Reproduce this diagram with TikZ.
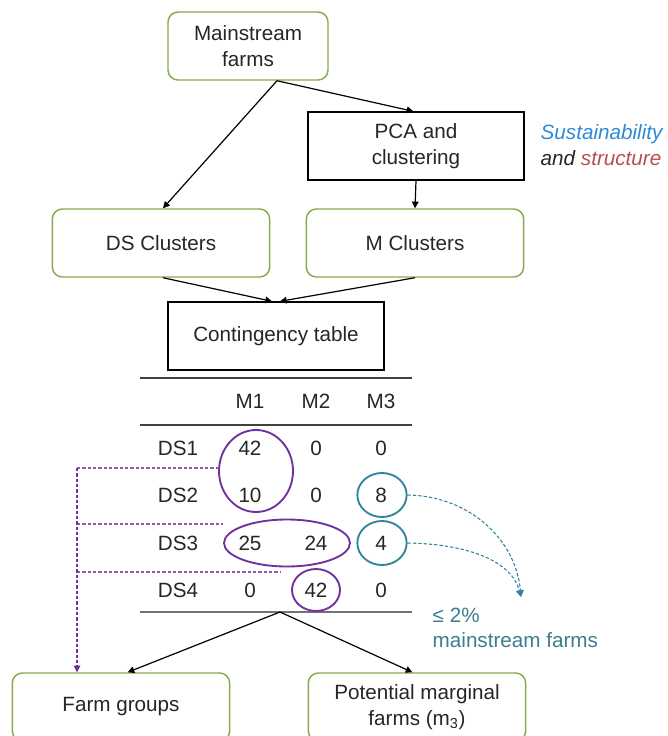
\documentclass[tikz,border=0pt]{standalone}
\usepackage{fontspec}
\setmainfont{Liberation Sans}
\usetikzlibrary{arrows.meta,shapes.geometric}
\definecolor{boxgreen}{HTML}{86AB4F}
\definecolor{ringpurple}{HTML}{7030A0}
\definecolor{ringteal}{HTML}{31849B}
\definecolor{textteal}{HTML}{3B7E8E}
\definecolor{susblue}{HTML}{2E8BD6}
\definecolor{strred}{HTML}{B5504F}
\definecolor{txt}{HTML}{262626}
\begin{document}
\begin{tikzpicture}[x=0.75pt,y=-0.75pt,
  font=\fontsize{15.5}{19.5}\selectfont,
  greenbox/.style={draw=boxgreen, line width=1.1pt, rounded corners=7.5pt, minimum width=163pt, minimum height=51pt, align=center, text=txt},
  blackbox/.style={draw=black, line width=1pt, minimum width=162pt, minimum height=51pt, align=center, text=txt},
  arr/.style={-{Triangle[length=5pt,width=5pt]}, line width=0.9pt},
  cell/.style={text=txt, inner sep=1pt},
  pring/.style={draw=ringpurple, ellipse, line width=1.4pt, inner sep=0pt},
  tring/.style={draw=ringteal, ellipse, line width=1.4pt, inner sep=0pt},
  pdash/.style={draw=ringpurple!80, dashed, dash pattern=on 2.5pt off 1.5pt, line width=0.8pt},
  tdash/.style={draw=ringteal, dashed, dash pattern=on 2.5pt off 1.5pt, line width=0.8pt, -{Triangle[length=5pt,width=5pt]}},
  rule/.style={draw=black!75, line width=1.3pt}
]
\useasboundingbox (0,0) rectangle (668,736);

% boxes
\node[greenbox, minimum width=120pt] (ms) at (248,46) {Mainstream\\farms};
\node[blackbox] (pca) at (416,146) {PCA and\\clustering};
\node[anchor=west, align=left, font=\fontsize{15.5}{20}\selectfont\itshape] (sus) at (536,145)
  {\textcolor{susblue}{Sustainability}\\\textcolor{txt}{and} \textcolor{strred}{structure}};
\node[greenbox] (ds) at (161,243) {DS Clusters};
\node[greenbox] (mc) at (415,243) {M Clusters};
\node[blackbox] (ct) at (276,336) {Contingency table};
\node[greenbox] (fg) at (121,707) {Farm groups};
\node[greenbox] (pm) at (417,707) {Potential marginal\\farms (m\textsubscript{3})};

% arrows top part
\draw[arr] ([xshift=21.75pt]ms.south) -- ([xshift=1.5pt]ds.north);
\draw[arr] ([xshift=21.75pt]ms.south) -- ([xshift=-2pt]pca.north);
\draw[arr] (pca.south) -- (mc.north);
\draw[arr] ([xshift=1.5pt]ds.south) -- ([xshift=-3pt]ct.north);
\draw[arr] (mc.south) -- ([xshift=3pt]ct.north);

% table rules
\draw[rule] (140,378) -- (412,378);
\draw[rule] (140,425) -- (412,425);
\draw[draw=black!55, line width=2.2pt] (140,612) -- (412,612);
\coordinate (tb) at (280,612);

% header
\node[cell] (h1) at (250,401) {M1};
\node[cell] (h2) at (316,401) {M2};
\node[cell] (h3) at (381,401) {M3};
% rows
\node[cell] (r1) at (178,448) {DS1};
\node[cell] (r2) at (178,495) {DS2};
\node[cell] (r3) at (178,543) {DS3};
\node[cell] (r4) at (178,590) {DS4};
\node[cell] (a11) at (250,448) {42};
\node[cell] (a12) at (316,448) {0};
\node[cell] (a13) at (381,448) {0};
\node[cell] (a21) at (250,495) {10};
\node[cell] (a22) at (316,495) {0};
\node[cell] (a23) at (381,495) {8};
\node[cell] (a31) at (250,543) {25};
\node[cell] (a32) at (316,543) {24};
\node[cell] (a33) at (381,543) {4};
\node[cell] (a41) at (250,590) {0};
\node[cell] (a42) at (316,590) {42};
\node[cell] (a43) at (381,590) {0};

% rings
\node[pring, minimum width=55.5pt, minimum height=61.5pt] (e1) at (256,471) {};
\node[pring, minimum width=94.5pt, minimum height=35.25pt] (e2) at (287,543) {};
\node[pring, minimum width=36pt, minimum height=31.5pt] (e3) at (316,590) {};
\node[tring, minimum width=37pt, minimum height=33pt] (c8) at (382,495) {};
\node[tring, minimum width=37pt, minimum height=33pt] (c4) at (382,543) {};

% purple dashed
\coordinate (p1) at (77,468);
\coordinate (p1e) at (220,468);
\coordinate (p2) at (77,524);
\coordinate (p2e) at (223,524);
\coordinate (p3) at (77,572);
\coordinate (p3e) at (280,572);
\draw[pdash] (p1) -- (p1e);
\draw[pdash] (p2) -- (p2e);
\draw[pdash] (p3) -- (p3e);
\draw[pdash, -{Triangle[length=5pt,width=5pt]}, draw=ringpurple] (p1) -- (p1 |- fg.north);

% teal dashed curves
\coordinate (tip) at (521,597);
\draw[tdash] (c8.east) .. controls (470,496) and (516,540) .. (tip);
\draw[tdash] (c4.east) .. controls (470,544) and (512,562) .. (tip);
\node[anchor=north west, align=left, text=textteal, font=\fontsize{15.5}{18.75}\selectfont] (note) at (428,603) {≤ 2\%\\mainstream farms};

% bottom arrows
\draw[arr] (tb) -- ([xshift=5pt]fg.north);
\draw[arr] (tb) -- ([xshift=-3.5pt]pm.north);
\end{tikzpicture}
\end{document}
